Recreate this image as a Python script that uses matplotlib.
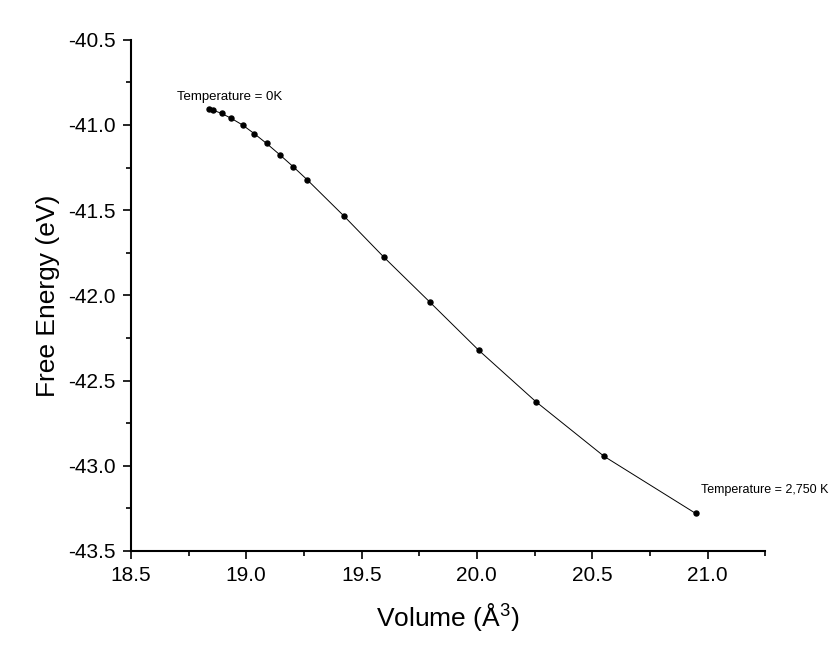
import matplotlib
matplotlib.use("Agg")
import matplotlib.pyplot as plt
from matplotlib.ticker import MultipleLocator

volume = [18.840, 18.858, 18.893, 18.935, 18.984, 19.035, 19.088, 19.145, 19.203,
          19.264, 19.425, 19.597, 19.795, 20.008, 20.256, 20.551, 20.949]
free_energy = [-40.906, -40.914, -40.932, -40.961, -41.000, -41.051, -41.108, -41.174,
               -41.244, -41.321, -41.536, -41.776, -42.038, -42.322, -42.624, -42.944,
               -43.280]
xticks = [18.5, 19.0, 19.5, 20.0, 20.5, 21.0]
yticks = [-43.5, -43.0, -42.5, -42.0, -41.5, -41.0, -40.5]
label_start = "Temperature = 0K"
label_end = "Temperature = 2,750 K"

plt.rcParams['font.family'] = ['Liberation Sans', 'DejaVu Sans']
plt.rcParams['mathtext.fontset'] = 'custom'
plt.rcParams['mathtext.rm'] = 'Liberation Sans'

fig = plt.figure(figsize=(8.39, 6.63), dpi=100)
ax = fig.add_axes([0.156, 0.169, 0.756, 0.771])

ax.plot(volume, free_energy, color='black', linewidth=0.7,
        marker='o', markersize=3.6, markerfacecolor='black', markeredgecolor='black')

ax.set_xlim(18.5, 21.25)
ax.set_ylim(-43.5, -40.5)
ax.set_xticks(xticks)
ax.set_yticks(yticks)
ax.set_xticklabels([f"{v:.1f}" for v in xticks])
ax.set_yticklabels([f"{v:.1f}" for v in yticks])
ax.xaxis.set_minor_locator(MultipleLocator(0.25))
ax.yaxis.set_minor_locator(MultipleLocator(0.25))

for s in ['top', 'right']:
    ax.spines[s].set_visible(False)
for s in ['left', 'bottom']:
    ax.spines[s].set_linewidth(1.5)

ax.tick_params(axis='both', which='major', direction='out', length=6, width=1.2,
               labelsize=15, pad=5)
ax.tick_params(axis='both', which='minor', direction='out', length=3.5, width=1.2)

ax.set_xlabel("Volume (Å$\\mathregular{^3}$)", fontsize=19, labelpad=11)
ax.set_ylabel("Free Energy (eV)", fontsize=19, labelpad=6)

ax.text(18.70, -40.835, label_start, fontsize=9.5, ha='left', va='center')
ax.text(20.97, -43.145, label_end, fontsize=9, ha='left', va='center')

fig.savefig("out.png", dpi=100)
